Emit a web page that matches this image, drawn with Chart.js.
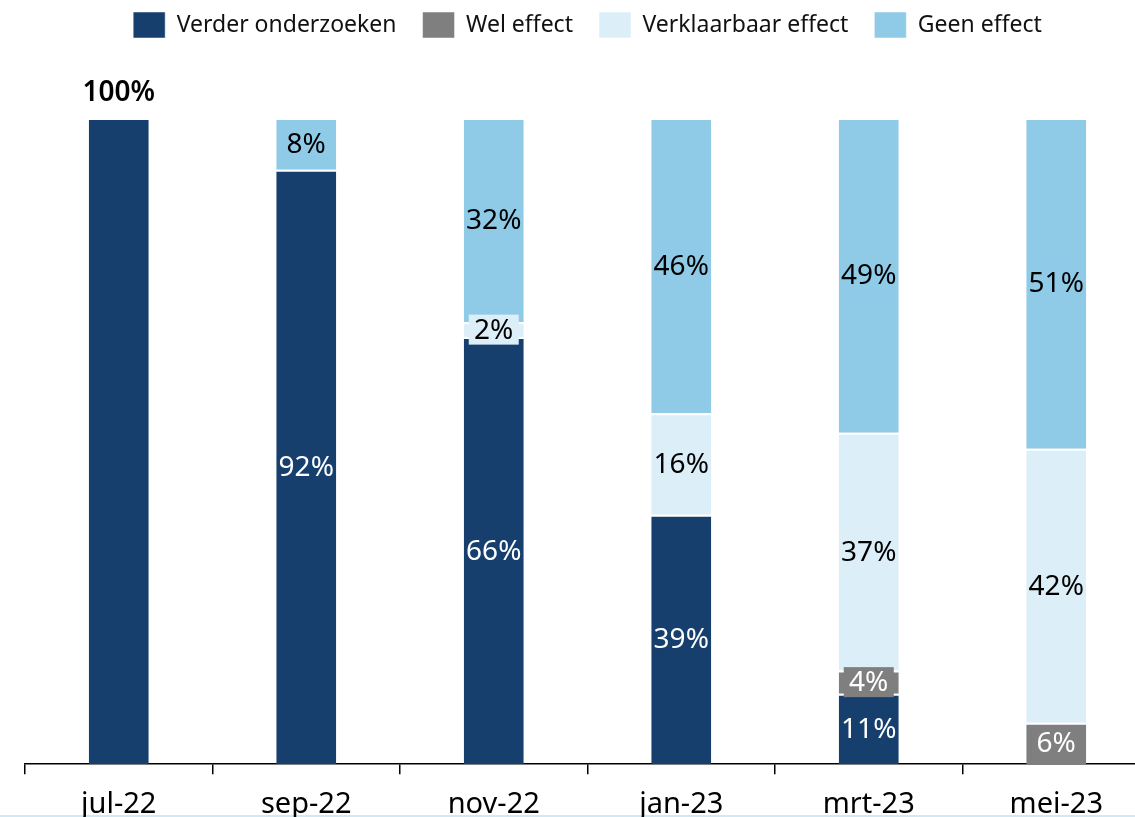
<!DOCTYPE html>
<html><head><meta charset="utf-8">
<script src="https://cdn.jsdelivr.net/npm/chart.js@4/dist/chart.umd.min.js"></script>
<style>
html,body{margin:0;padding:0;background:#fff;overflow:hidden;width:1135px;height:817px;position:relative;}
#wrap{position:absolute;left:0;top:-14px;width:1152px;height:849px;z-index:2;}
#line{position:absolute;left:0;top:815px;width:1135px;height:2px;background:#cfe9f5;z-index:1;}
</style></head><body>
<div id="line"></div>
<div id="wrap"><canvas id="c"></canvas></div>
<script>
const categories = ["jul-22","sep-22","nov-22","jan-23","mrt-23","mei-23"];
const verderOnderzoeken = [100, 92, 66.1, 38.6, 10.9, 0];
const welEffect = [0, 0, 0, 0, 3.6, 6.4];
const verklaarbaarEffect = [0, 0, 2.3, 15.7, 36.8, 42.4];
const geenEffect = [0, 8, 31.6, 45.7, 48.7, 51.2];
const seriesNames = ["Verder onderzoeken","Wel effect","Verklaarbaar effect","Geen effect"];
const colors = ["#173f6e","#7f7f7f","#dceef8","#8fcae7"];
const textColors = ["#ffffff","#ffffff","#000000","#000000"];
const FONT = "'Noto Sans', sans-serif";

const labelPlugin = {
  id:'segLabels',
  afterDatasetsDraw(chart){
    const ctx = chart.ctx;
    ctx.save();
    ctx.textAlign = 'center';
    ctx.textBaseline = 'middle';
    chart.data.datasets.forEach((ds,i)=>{
      const meta = chart.getDatasetMeta(i);
      meta.data.forEach((bar,j)=>{
        const v = ds.data[j];
        if(!v || v<=0) return;
        const txt = Math.round(v) + '%';
        if(i===0 && v>=100){
          ctx.font = "600 28px " + FONT;
          ctx.fillStyle = '#000';
          ctx.fillText(txt, bar.x, bar.y - 25);
          return;
        }
        ctx.font = "28px " + FONT;
        const y = (bar.y + bar.base)/2;
        const w = Math.min(ctx.measureText(txt).width + 12, bar.width - 10);
        const h = 30;
        ctx.fillStyle = colors[i];
        ctx.fillRect(bar.x - w/2, y - h/2, w, h);
        ctx.fillStyle = textColors[i];
        ctx.fillText(txt, bar.x, y + 1);
      });
    });
    ctx.restore();
  }
};

const series = [verderOnderzoeken, welEffect, verklaarbaarEffect, geenEffect];
new Chart(document.getElementById('c'), {
  type:'bar',
  data:{
    labels: categories,
    datasets: series.map((d,i)=>({
      label: seriesNames[i],
      data: d,
      backgroundColor: colors[i],
      borderColor: '#ffffff',
      borderWidth: {top:2,left:0,right:0,bottom:0},
      borderSkipped: false,
      barPercentage: 0.32,
      categoryPercentage: 1.0
    }))
  },
  options:{
    responsive:true, maintainAspectRatio:false, animation:false,
    layout:{padding:{left:25,right:2,top:0,bottom:0}},
    plugins:{
      legend:{
        position:'top',
        labels:{boxWidth:32,boxHeight:26,font:{family:FONT,size:23},color:'#111',padding:26},
      },
      tooltip:{enabled:false}
    },
    scales:{
      x:{
        stacked:true,
        grid:{offset:true,drawOnChartArea:false,drawTicks:true,tickLength:10,color:'#000',lineWidth:1.5},
        border:{display:true,color:'#000',width:1.5},
        ticks:{font:{family:FONT,size:29},color:'#000',padding:13}
      },
      y:{stacked:true,display:false,min:0,max:100}
    }
  },
  plugins:[labelPlugin,{
    id:'legendPad',
    beforeInit(chart){
      const fit = chart.legend.fit;
      chart.legend.fit = function(){ fit.bind(chart.legend)(); this.height += 70; };
    }
  }]
});
</script>
</body></html>
